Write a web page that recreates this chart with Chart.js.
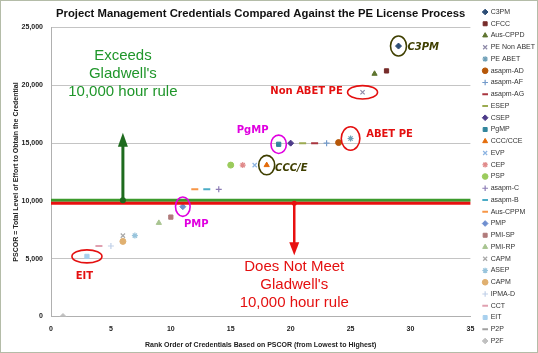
<!DOCTYPE html>
<html>
<head>
<meta charset="utf-8">
<script src="https://cdn.jsdelivr.net/npm/chart.js@4.4.0/dist/chart.umd.min.js"></script>
<style>
    html, body { margin: 0; padding: 0; background: #fff; }
    #wrap { width: 538px; height: 353px; }
</style>
</head>
<body>
<div id="wrap"><canvas id="pscorChart" width="538" height="353"></canvas></div>
<script>
// Credentials in legend order, with rank (x) and PSCOR hours (y)
const credentials = ['C3PM', 'CFCC', 'Aus-CPPD', 'PE Non ABET', 'PE ABET', 'asapm-AD', 'asapm-AF', 'asapm-AG',
    'ESEP', 'CSEP', 'PgMP', 'CCC/CCE', 'EVP', 'CEP', 'PSP', 'asapm-C', 'asapm-B', 'Aus-CPPM', 'PMP',
    'PMI-SP', 'PMI-RP', 'CAPM', 'ASEP', 'CAPM', 'IPMA-D', 'CCT', 'EIT', 'P2P', 'P2F'];
const rankOrder = [29, 28, 27, 26, 25, 24, 23, 22, 21, 20, 19, 18, 17, 16, 15, 14, 13, 12, 11,
    10, 9, 6, 7, 6, 5, 4, 3, null, 1];
const pscorHours = [23400, 21250, 21000, 19400, 15400, 15050, 15000, 15000, 15000, 15000, 14900, 13100, 13100, 13100, 13100, 11000, 11000, 11000, 9500,
    8600, 8100, 7000, 7000, 6500, 6100, 6100, 5200, null, 0];

// Axis ticks
const xTicks = [0, 5, 10, 15, 20, 25, 30, 35];
const yTicks = [0, 5000, 10000, 15000, 20000, 25000];

// Gladwell threshold lines and arrows
const exceedsLevel = 10050;
const notMeetLevel = 9800;
const exceedsArrow = { x: 6, top: 15900 };
const notMeetArrow = { x: 20.3, bottom: 5300 };
const exceedsText = ['Exceeds', "Gladwell's", '10,000 hour rule'];
const exceedsTextY = [22540, 20990, 19440];
const notMeetText = ['Does Not Meet', "Gladwell's", '10,000 hour rule'];
const notMeetTextY = [4300, 2750, 1150];

// Circled credentials and their call-out labels
const calloutText = ['EIT', 'PMP', 'PgMP', 'CCC/E', 'C3PM', 'Non ABET PE', 'ABET PE'];
const calloutTarget = [26, 18, 10, 11, 0, 3, 4];
const calloutLabelX = [2.06, 11.1, 15.5, 18.7, 29.75, 18.3, 26.3];
const calloutLabelY = [3430, 7950, 16140, 12800, 23260, 19440, 15790];

// Marker styles (Excel-like)
const markerStyles = ['rectRot', 'rect', 'triangle', 'crossRot', 'star', 'circle', 'cross', 'line', 'line',
    'rectRot', 'rect', 'triangle', 'crossRot', 'star', 'circle', 'cross', 'line', 'line',
    'rectRot', 'rect', 'triangle', 'crossRot', 'star', 'circle', 'cross', 'line', 'rect', 'line', 'rectRot'];
const markerColors = ['#2C4D75', '#772C2A', '#5F7530', '#8E8AA8', '#6FA0B8', '#B65708', '#729ACA', '#A8343E', '#9BAA50',
    '#4D3B8A', '#31859C', '#E46C0A', '#8DB4E2', '#E08A8A', '#9BCB5C', '#8C7CB5', '#4BACC6', '#F79646',
    '#6F8FD0', '#B07A7A', '#A8C490', '#A8A8A8', '#98C4DC', '#E0B070', '#C0D0E8', '#E0A0B0', '#A8D0EE', '#A0A0A0', '#C0C0C0'];
const strokeOnly = ['crossRot', 'star', 'cross', 'line'];

const calloutColors = ['#E41010', '#E000E0', '#E000E0', '#3F3F00', '#3F3F00', '#E41010', '#E41010'];
const calloutRadii = [[15, 6.5], [7.3, 9.7], [7.7, 9.2], [8, 9.7], [8, 10], [15, 6.7], [9.3, 11.7]];

const datasets = credentials.map((name, i) => {
    const style = markerStyles[i];
    const isLine = style === 'line';
    return {
        label: name,
        data: rankOrder[i] === null ? [] : [{ x: rankOrder[i], y: pscorHours[i] }],
        pointStyle: style,
        pointRadius: isLine ? 3.5 : 3,
        backgroundColor: markerColors[i],
        borderColor: markerColors[i],
        borderWidth: isLine ? 2 : (strokeOnly.includes(style) ? 1.2 : 1),
        showLine: false
    };
});

// Draws threshold lines, arrows, ellipses and the text call-outs
const calloutPlugin = {
    id: 'callouts',
    afterLayout(chart) {
        // nudge legend right, closer to the frame edge
        chart.legend.left += 8;
        chart.legend.right += 8;
    },
    beforeDraw(chart) {
        const { ctx, width, height } = chart;
        ctx.save();
        ctx.fillStyle = '#fff';
        ctx.fillRect(0, 0, width, height);
        ctx.strokeStyle = '#B4BCA8';
        ctx.lineWidth = 1;
        ctx.strokeRect(0.5, 0.5, width - 1, height - 1);
        ctx.restore();
    },
    afterDatasetsDraw(chart) {
        const { ctx } = chart;
        const x = chart.scales.x;
        const y = chart.scales.y;
        const left = x.getPixelForValue(0);
        const right = x.getPixelForValue(35);
        ctx.save();

        // threshold lines
        ctx.lineWidth = 3;
        ctx.strokeStyle = '#3C9A2C';
        ctx.beginPath();
        ctx.moveTo(left, y.getPixelForValue(exceedsLevel));
        ctx.lineTo(right, y.getPixelForValue(exceedsLevel));
        ctx.stroke();
        ctx.strokeStyle = '#E81010';
        ctx.beginPath();
        ctx.moveTo(left, y.getPixelForValue(notMeetLevel));
        ctx.lineTo(right, y.getPixelForValue(notMeetLevel));
        ctx.stroke();

        // green arrow up
        const gx = x.getPixelForValue(exceedsArrow.x);
        const gBase = y.getPixelForValue(exceedsLevel);
        const gTip = y.getPixelForValue(exceedsArrow.top);
        ctx.strokeStyle = '#1E6B1E';
        ctx.fillStyle = '#1E6B1E';
        ctx.lineWidth = 3;
        ctx.beginPath();
        ctx.moveTo(gx, gBase);
        ctx.lineTo(gx, gTip + 12);
        ctx.stroke();
        ctx.beginPath();
        ctx.moveTo(gx, gTip);
        ctx.lineTo(gx - 5, gTip + 14);
        ctx.lineTo(gx + 5, gTip + 14);
        ctx.closePath();
        ctx.fill();
        ctx.beginPath();
        ctx.arc(gx, gBase, 3, 0, Math.PI * 2);
        ctx.fill();

        // red arrow down
        const rx = x.getPixelForValue(notMeetArrow.x);
        const rBase = y.getPixelForValue(notMeetLevel);
        const rTip = y.getPixelForValue(notMeetArrow.bottom);
        ctx.strokeStyle = '#E81010';
        ctx.fillStyle = '#E81010';
        ctx.lineWidth = 2.5;
        ctx.beginPath();
        ctx.moveTo(rx, rBase);
        ctx.lineTo(rx, rTip - 12);
        ctx.stroke();
        ctx.beginPath();
        ctx.moveTo(rx, rTip);
        ctx.lineTo(rx - 5, rTip - 13);
        ctx.lineTo(rx + 5, rTip - 13);
        ctx.closePath();
        ctx.fill();
        ctx.beginPath();
        ctx.arc(rx, rBase, 2.5, 0, Math.PI * 2);
        ctx.fill();

        // big rule texts
        ctx.font = '15px "Liberation Sans", Arial, sans-serif';
        ctx.textAlign = 'center';
        ctx.textBaseline = 'middle';
        ctx.fillStyle = '#1F962A';
        exceedsText.forEach((t, i) => ctx.fillText(t, gx, y.getPixelForValue(exceedsTextY[i])));
        ctx.fillStyle = '#E41010';
        notMeetText.forEach((t, i) => ctx.fillText(t, rx, y.getPixelForValue(notMeetTextY[i])));

        // ellipses + labels
        ctx.lineWidth = 1.6;
        ctx.textAlign = 'left';
        calloutText.forEach((label, i) => {
            const k = calloutTarget[i];
            const cx = x.getPixelForValue(rankOrder[k]);
            const cy = y.getPixelForValue(pscorHours[k]);
            ctx.strokeStyle = calloutColors[i];
            ctx.beginPath();
            ctx.ellipse(cx, cy, calloutRadii[i][0], calloutRadii[i][1], 0, 0, Math.PI * 2);
            ctx.stroke();
            ctx.fillStyle = calloutColors[i];
            ctx.font = (label === 'CCC/E' || label === 'C3PM' ? 'italic ' : '') + 'bold 10px "DejaVu Sans", sans-serif';
            ctx.fillText(label, x.getPixelForValue(calloutLabelX[i]), y.getPixelForValue(calloutLabelY[i]));
        });
        ctx.restore();
    }
};

const tickFont = { family: '"Liberation Sans", Arial, sans-serif', size: 7, weight: 'bold' };

new Chart(document.getElementById('pscorChart').getContext('2d'), {
    type: 'scatter',
    data: { datasets },
    options: {
        responsive: false,
        animation: false,
        events: [],
        devicePixelRatio: 1,
        layout: { padding: { left: 8, right: 1, top: 0, bottom: 0 } },
        scales: {
            x: {
                type: 'linear',
                min: 0,
                max: 35,
                afterBuildTicks: (scale) => { scale.ticks = xTicks.map(v => ({ value: v })); },
                afterFit: (scale) => { scale.height = 36.5; },
                grid: { display: false, drawTicks: false },
                border: { color: '#B0B0B0' },
                ticks: { font: tickFont, color: '#222', padding: 8 },
                title: {
                    display: true,
                    text: 'Rank Order of Credentials Based on PSCOR (from Lowest to Highest)',
                    font: tickFont,
                    color: '#222',
                    padding: { top: 0, bottom: 4 }
                }
            },
            y: {
                min: 0,
                max: 25000,
                afterBuildTicks: (scale) => { scale.ticks = yTicks.map(v => ({ value: v })); },
                afterFit: (scale) => { scale.width = 43; },
                grid: { color: '#C4C4C4', drawTicks: false },
                border: { color: '#B0B0B0' },
                ticks: { font: tickFont, color: '#222', padding: 8 },
                title: {
                    display: true,
                    text: 'PSCOR = Total Level of Effort to Obtain the Credential',
                    font: tickFont,
                    color: '#222',
                    padding: { top: 4, bottom: 0 }
                }
            }
        },
        plugins: {
            tooltip: { enabled: false },
            title: {
                display: true,
                fullSize: false,
                text: 'Project Management Credentials Compared Against the PE License Process',
                font: { family: '"Liberation Sans", Arial, sans-serif', size: 11.3, weight: 'bold' },
                color: '#111',
                padding: { top: 7, bottom: 7 }
            },
            legend: {
                position: 'right',
                labels: {
                    usePointStyle: true,
                    boxWidth: 4,
                    boxHeight: 4,
                    font: { family: '"Liberation Sans", Arial, sans-serif', size: 7 },
                    color: '#333',
                    padding: 4.75
                }
            }
        }
    },
    plugins: [calloutPlugin]
});
</script>
</body>
</html>
